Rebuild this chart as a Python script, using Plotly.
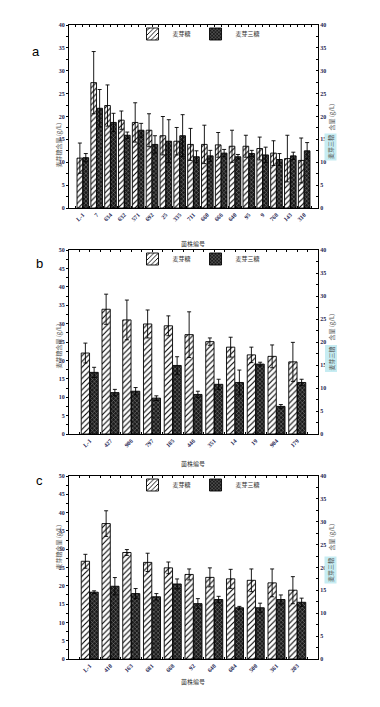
import plotly.graph_objects as go

# ---------------- data ----------------
a_strains = ["L-1", "7", "634", "632", "571", "692", "25", "335", "711", "660",
             "666", "640", "95", "9", "768", "143", "310"]
a_maltose = [10.9, 27.4, 22.4, 19.2, 18.7, 17.0, 15.8, 14.6, 13.9, 13.9,
             13.8, 13.5, 13.5, 13.0, 12.0, 10.8, 10.4]
a_maltose_err = [3.3, 6.8, 4.5, 2.0, 4.3, 3.6, 4.2, 3.0, 3.5, 4.2,
                 2.7, 3.5, 2.4, 2.5, 2.7, 5.1, 4.9]
a_tri = [11.0, 21.8, 18.7, 15.9, 17.0, 13.9, 14.6, 15.8, 11.2, 11.4,
         12.0, 11.2, 11.9, 11.6, 10.6, 11.4, 12.5]
a_tri_err = [0.9, 4.1, 2.0, 0.7, 1.5, 1.9, 4.7, 4.6, 1.3, 1.2,
             0.8, 0.5, 0.7, 1.7, 1.3, 0.8, 1.8]

b_strains = ["L-1", "427", "906", "797", "185", "446", "351", "14", "19", "904", "179"]
b_maltose = [22.0, 33.9, 31.0, 29.9, 29.4, 27.0, 25.1, 23.6, 21.5, 21.1, 19.6]
b_maltose_err = [2.7, 4.1, 5.4, 3.8, 2.7, 6.2, 1.0, 2.7, 2.1, 3.1, 5.3]
b_tri = [13.4, 9.0, 9.3, 7.8, 14.9, 8.6, 10.8, 11.2, 15.2, 6.0, 11.2]
b_tri_err = [1.1, 0.7, 0.8, 0.5, 1.9, 0.7, 1.1, 2.7, 0.4, 0.4, 0.7]

c_strains = ["L-1", "410", "163", "681", "668", "92", "648", "604", "500", "361", "203"]
c_maltose = [26.7, 37.0, 29.1, 26.4, 24.9, 23.1, 22.3, 21.9, 21.5, 20.8, 18.8]
c_maltose_err = [1.9, 3.5, 0.8, 2.5, 1.6, 1.5, 2.6, 2.6, 3.1, 3.8, 3.7]
c_tri = [14.6, 15.9, 14.3, 13.6, 16.4, 12.1, 13.0, 11.2, 11.2, 13.0, 12.4]
c_tri_err = [0.3, 1.9, 1.1, 0.7, 1.1, 1.1, 0.7, 0.3, 1.0, 1.0, 0.9]

legend_names = ["麦芽糖", "麦芽三糖"]
left_title = "麦芽糖含量 (g/L)"
right_title_a = "麦芽三糖"
right_title_b = "含量 (g/L)"
x_title = "菌株编号"

# page has an 8px body margin; the figure is sized to fit the rest of the window
OFF = 8
W, H = 380 - OFF, 707 - OFF
CJK = "Noto Sans CJK SC"
TICKFONT = dict(family="Liberation Serif", size=6, color="#1c1c50", weight="bold")


def fx(x):
    return (x - OFF) / W


def fy(y):
    return 1 - (y - OFF) / H


panels = [
    dict(cats=a_strains, mal=a_maltose, mal_e=a_maltose_err, tri=a_tri, tri_e=a_tri_err,
         lmax=40, rmax=40, top=25, bottom=208, label="a", lab=(30, 42), w=0.41),
    dict(cats=b_strains, mal=b_maltose, mal_e=b_maltose_err, tri=b_tri, tri_e=b_tri_err,
         lmax=50, rmax=40, top=250, bottom=434, label="b", lab=(34, 263), w=0.40),
    dict(cats=c_strains, mal=c_maltose, mal_e=c_maltose_err, tri=c_tri, tri_e=c_tri_err,
         lmax=50, rmax=40, top=476, bottom=659, label="c", lab=(34, 490), w=0.40),
]

X0, X1 = 69, 318

fig = go.Figure()
annotations = []
layout = {}

for i, p in enumerate(panels):
    xs = "" if i == 0 else str(i + 1)
    yl = "" if i == 0 else str(2 * i + 1)
    yr = str(2 * i + 2)
    legname = "legend" if i == 0 else "legend" + str(i + 1)
    n = len(p["cats"])
    pos = list(range(1, n + 1))
    w = p["w"]

    fig.add_trace(go.Bar(
        x=pos, y=p["mal"], name=legend_names[0], xaxis="x" + xs, yaxis="y" + yl,
        width=w, offset=-w - 0.01, legend=legname,
        marker=dict(color="white", line=dict(color="black", width=0.9),
                    pattern=dict(shape="/", fgcolor="black", bgcolor="white",
                                 size=4, solidity=0.28, fillmode="replace")),
        error_y=dict(type="data", array=p["mal_e"], visible=True, color="black",
                     thickness=0.9, width=2),
    ))
    fig.add_trace(go.Bar(
        x=pos, y=p["tri"], name=legend_names[1], xaxis="x" + xs, yaxis="y" + yr,
        width=w, offset=0.01, legend=legname,
        marker=dict(color="#1a1a1a", line=dict(color="black", width=0.9),
                    pattern=dict(shape="x", fgcolor="#8a8a8a", bgcolor="#1a1a1a",
                                 size=3, solidity=0.3, fillmode="replace")),
        error_y=dict(type="data", array=p["tri_e"], visible=True, color="black",
                     thickness=0.9, width=2),
    ))

    ydom = [fy(p["bottom"]), fy(p["top"])]
    layout["xaxis" + xs] = dict(
        domain=[fx(X0), fx(X1)], range=[0, n + 1], anchor="y" + yl, automargin=False,
        tickmode="array", tickvals=pos, ticktext=p["cats"], tickangle=-45,
        tickfont=TICKFONT, ticks="inside", ticklen=2, tickcolor="black",
        showline=True, linecolor="black", linewidth=1.3, mirror="ticks",
        showgrid=False, zeroline=False,
        minor=dict(tickmode="array", tickvals=[k + 0.5 for k in range(0, n + 1)],
                   ticks="inside", ticklen=2, tickcolor="black", showgrid=False),
    )
    layout["yaxis" + yl] = dict(
        domain=ydom, range=[0, p["lmax"]], anchor="x" + xs, dtick=5, automargin=False,
        tickfont=TICKFONT, ticks="outside", ticklen=2, tickcolor="black",
        showline=True, linecolor="black", linewidth=1.3, showgrid=False,
        zeroline=False, minor=dict(dtick=2.5, ticks="outside", ticklen=1.5,
                                   tickcolor="black", showgrid=False),
    )
    layout["yaxis" + yr] = dict(
        domain=ydom, range=[0, p["rmax"]], anchor="x" + xs, overlaying="y" + yl,
        side="right", dtick=5, tickfont=TICKFONT, ticks="inside", ticklen=2,
        automargin=False,
        tickcolor="black", showline=True, linecolor="black", linewidth=1.3,
        showgrid=False, zeroline=False,
        minor=dict(dtick=2.5, ticks="inside", ticklen=1.5, tickcolor="black",
                   showgrid=False),
    )
    layout[legname] = dict(
        x=fx(199), y=fy(p["top"] + 9), xanchor="center", yanchor="middle",
        orientation="h", bgcolor="rgba(0,0,0,0)", font=dict(family=CJK, size=6, color="#333"),
        itemwidth=30, tracegroupgap=0, itemclick=False,
    )

    mid = (p["top"] + p["bottom"]) / 2
    annotations.append(dict(
        text=p["label"], x=fx(p["lab"][0]), y=fy(p["lab"][1]), xref="paper", yref="paper",
        showarrow=False, font=dict(family="Liberation Sans", size=13, color="black")))
    annotations.append(dict(
        text=left_title, x=fx(51), y=fy(mid + 4), xref="paper", yref="paper",
        showarrow=False, textangle=-90, font=dict(family=CJK, size=6, color="#555")))
    annotations.append(dict(
        text=right_title_a, x=fx(337), y=fy(mid + 17), xref="paper", yref="paper",
        showarrow=False, textangle=-90, bgcolor="#c6ecf2",
        font=dict(family=CJK, size=6, color="#555")))
    annotations.append(dict(
        text=right_title_b, x=fx(337), y=fy(mid - 15), xref="paper", yref="paper",
        showarrow=False, textangle=-90, font=dict(family=CJK, size=6, color="#555")))
    annotations.append(dict(
        text=x_title, x=fx(193), y=fy(p["bottom"] + 29), xref="paper", yref="paper",
        showarrow=False, font=dict(family=CJK, size=6, color="#333")))

fig.update_layout(
    template="none",
    width=W, height=H, margin=dict(l=0, r=0, t=0, b=0, autoexpand=False),
    paper_bgcolor="white", plot_bgcolor="white",
    barmode="overlay", bargap=0.2, annotations=annotations,
    **layout,
)

fig.write_html("out.html")
